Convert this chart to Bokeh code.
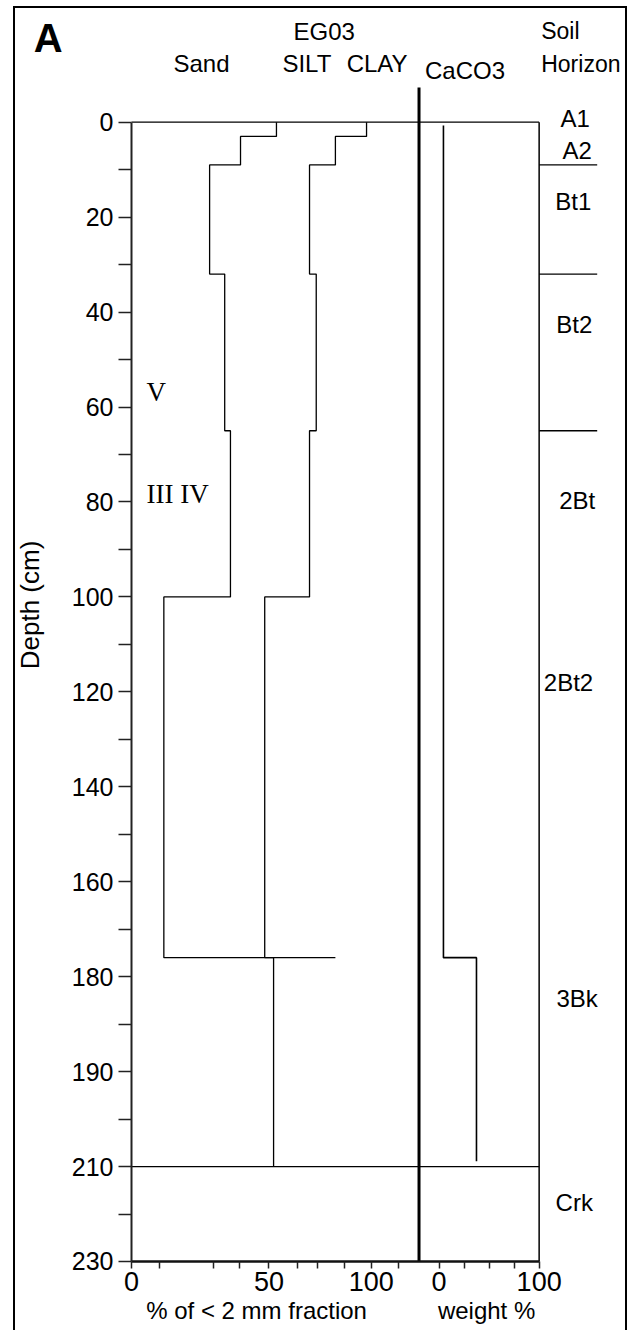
from bokeh.plotting import figure
from bokeh.models import Range1d, FixedTicker, Label
from bokeh.embed import file_html
from bokeh.resources import INLINE

# ---------------- data ----------------
LAYER_TOP = [0, 3, 9, 32, 65, 100, 176]
LAYER_BOTTOM = [3, 9, 32, 65, 100, 176, 220]
SAND = [60.5, 45.5, 32.6, 38.9, 41.3, 13.5, 59.3]              # sand / silt boundary (%)
SAND_PLUS_SILT = [98.1, 85.1, 74.3, 77.1, 74.3, 55.6, 85.1]     # silt / clay boundary (%)

CACO3_TOP = [0.7, 176]
CACO3_BOTTOM = [176, 218.9]
CACO3 = [4.4, 37.4]                                              # weight %

HORIZONS = ["A1", "A2", "Bt1", "Bt2", "2Bt", "2Bt2", "3Bk", "Crk"]
HORIZON_LABEL_DEPTH = [-0.8, 5.9, 16.7, 42.7, 79.6, 118.1, 184.7, 227.5]
HORIZON_BOUNDARIES = [9, 32, 65]
PROFILE_BASE = 220

DEPTH_TICKS = [0, 20, 40, 60, 80, 100, 120, 140, 160, 180, 200, 220, 240]
DEPTH_TICK_LABELS = ["0", "20", "40", "60", "80", "100", "120", "140", "160",
                     "180", "190", "210", "230"]
DEPTH_MINOR = [10, 30, 50, 70, 90, 110, 130, 150, 170, 190, 210, 230]

FRACTION_TICKS = [0, 11.48, 34.06, 45.08, 57.35, 69.28, 77.75, 88.98, 100.04, 111.23]
FRACTION_TICK_LABELS = ["0", "", "", "", "50", "", "", "", "100", ""]
WEIGHT_TICKS = [0, 25, 50, 75, 100]
WEIGHT_TICK_LABELS = ["0", "", "", "", "100"]

# ---------------- layout constants ----------------
SANS = "Liberation Sans"
SERIF = "Liberation Serif"
W, H = 614, 1324
PX_U = 2.396      # px per % (< 2 mm fraction panel)
PX_W = 1.001      # px per weight % (CaCO3 panel)
PX_D = 4.747      # px per cm depth
AXIS_X_PX = 116   # canvas px of the depth axis
DEPTH0_PX = 113.7  # canvas px of depth 0
SEP_U, SEP_W = 120.0, -20.0   # panel separator in both units

x_start = -AXIS_X_PX / PX_U
x_range = Range1d(x_start, x_start + W / PX_U)
y_top = -DEPTH0_PX / PX_D
y_range = Range1d(y_top + H / PX_D, y_top)
w_start = SEP_W - (SEP_U - x_start) * PX_U / PX_W
caco3_range = Range1d(w_start, w_start + W / PX_W)


def w_to_u(w):
    return round(SEP_U + (w - SEP_W) * PX_W / PX_U, 3)


p = figure(width=W, height=H, x_range=x_range, y_range=y_range,
           output_backend="svg", toolbar_location=None,
           min_border_left=0, min_border_right=0, min_border_top=0,
           min_border_bottom=0)
p.extra_x_ranges = {"caco3": caco3_range}
p.grid.visible = False
p.outline_line_color = None
p.background_fill_color = "white"
p.border_fill_color = "white"
p.styles = {"border": "2px solid #000", "border-bottom": "none"}
p.margin = (6, 0, 0, 13)

# ---------------- axes ----------------
yax = p.yaxis[0]
yax.fixed_location = 0
yax.ticker = FixedTicker(ticks=DEPTH_TICKS, minor_ticks=DEPTH_MINOR)
yax.major_label_overrides = {t: l for t, l in zip(DEPTH_TICKS, DEPTH_TICK_LABELS)}
yax.bounds = (0, 240)
yax.axis_line_width = 2
yax.axis_line_color = "#222"
yax.major_tick_out = 13
yax.major_tick_in = 0
yax.minor_tick_out = 13
yax.minor_tick_in = 0
yax.major_tick_line_width = 1.5
yax.minor_tick_line_width = 1.5
yax.major_tick_line_color = "#222"
yax.minor_tick_line_color = "#222"
yax.major_label_text_font = SANS
yax.major_label_text_font_size = "25px"
yax.major_label_text_color = "black"
yax.major_label_standoff = 5

xax = p.xaxis[0]
xax.fixed_location = 240
x_ticks = FRACTION_TICKS + [w_to_u(w) for w in WEIGHT_TICKS]
x_labels = FRACTION_TICK_LABELS + WEIGHT_TICK_LABELS
xax.ticker = FixedTicker(ticks=x_ticks, minor_ticks=[])
xax.major_label_overrides = {t: l for t, l in zip(x_ticks, x_labels)}
xax.bounds = (0, w_to_u(100))
xax.axis_line_width = 2.5
xax.axis_line_color = "#111"
xax.major_tick_out = 7
xax.major_tick_in = 0
xax.minor_tick_out = 0
xax.minor_tick_in = 0
xax.major_tick_line_width = 1.5
xax.major_tick_line_color = "#222"
xax.major_label_text_font = SANS
xax.major_label_text_font_size = "27px"
xax.major_label_text_color = "black"
xax.major_label_standoff = 4

# ---------------- frame lines ----------------
LW = 1.3
for d in (0, PROFILE_BASE):
    p.line([0, SEP_U], [d, d], line_color="black", line_width=LW)
    p.line([SEP_W, 100], [d, d], line_color="black", line_width=LW,
           x_range_name="caco3")
p.line([100, 100], [0, 240], line_color="black", line_width=1.5, x_range_name="caco3")
p.line([SEP_U, SEP_U], [-7.3, 240], line_color="black", line_width=3)
for d in HORIZON_BOUNDARIES:
    p.line([100, 158], [d, d], line_color="black", line_width=LW, x_range_name="caco3")


# ---------------- data step lines ----------------
def step_path(vals, tops, bottoms):
    xs, ys = [], []
    for v, t, b in zip(vals, tops, bottoms):
        xs += [v, v]
        ys += [t, b]
    return xs, ys


sx, sy = step_path(SAND, LAYER_TOP, LAYER_BOTTOM)
p.line(sx, sy, line_color="black", line_width=LW)
cx, cy = step_path(SAND_PLUS_SILT, LAYER_TOP, LAYER_BOTTOM)
# the silt/clay line is not continued through the lowest layer
p.line(cx[:-1], cy[:-1], line_color="black", line_width=LW)
kx, ky = step_path(CACO3, CACO3_TOP, CACO3_BOTTOM)
p.line(kx, ky, line_color="black", line_width=1.6, x_range_name="caco3")


# ---------------- texts ----------------
def lab(x, y, text, size="24px", font=SANS, align="center", baseline="alphabetic",
        style="normal", angle=0.0):
    p.add_layout(Label(x=x, y=y, text=text, text_font=font, text_font_size=size,
                       text_align=align, text_baseline=baseline, text_font_style=style,
                       text_color="black", angle=angle))


lab(-34.8, -17.75, "A", size="40px", style="bold")
lab(80.4, -19.16, "EG03")
lab(29.2, -12.3, "Sand")
lab(73.2, -12.3, "SILT")
lab(102.5, -12.3, "CLAY")
lab(139.2, -10.9, "CaCO3")
lab(171.0, -19.2, "Soil", size="23px", align="left")
lab(171.0, -12.2, "Horizon", size="23px", align="left")

HORIZON_X = [185.2, 186.0, 184.4, 184.8, 186.0, 182.4, 186.0, 184.8]
for name, d, x in zip(HORIZONS, HORIZON_LABEL_DEPTH, HORIZON_X):
    lab(x, d, name, size="24px")

lab(6.26, 56.8, "V", size="27px", font=SERIF, align="left")
lab(6.26, 78.4, "III IV", size="27px", font=SERIF, align="left")

lab(-42.5, 101.7, "Depth (cm)", size="26px", baseline="middle", angle=1.5707963)
lab(52.2, 250.3, "% of < 2 mm fraction")
lab(148.2, 250.3, "weight %")

open("out.html", "w").write(file_html(p, INLINE))
